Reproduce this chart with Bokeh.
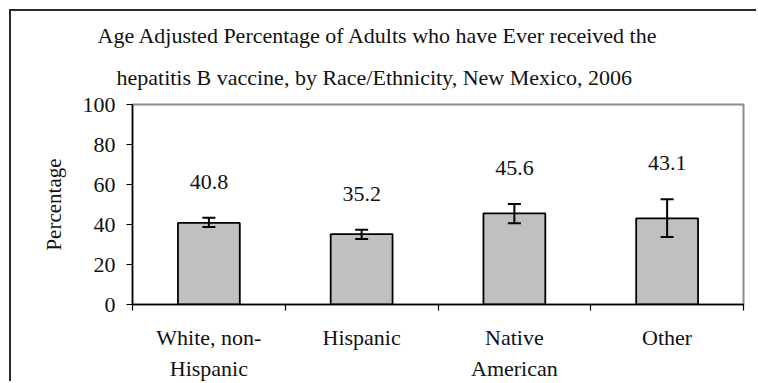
from bokeh.plotting import figure
from bokeh.models import ColumnDataSource, Whisker, TeeHead, FixedTicker, Range1d, Title
from bokeh.core.properties import value
from bokeh.embed import file_html
from bokeh.resources import INLINE

categories = ["White, non-Hispanic", "Hispanic", "Native American", "Other"]
category_labels = ["White, non-\nHispanic", "Hispanic", "Native\nAmerican", "Other"]
percentages = [40.8, 35.2, 45.6, 43.1]
ci_lower = [38.7, 32.8, 40.6, 33.7]
ci_upper = [43.4, 37.4, 50.2, 52.6]
y_ticks = [0, 20, 40, 60, 80, 100]
title_lines = ["Age Adjusted Percentage of Adults who have Ever received the",
               "hepatitis B vaccine, by Race/Ethnicity, New Mexico, 2006"]

FONT = "Liberation Serif"
TXT = "#111111"

xpos = [i + 0.5 for i in range(len(categories))]
src = ColumnDataSource(dict(x=xpos, cat=categories, pct=percentages,
                            lo=ci_lower, hi=ci_upper,
                            lbl=[f"{v:.1f}" for v in percentages]))

M = 11
W, H = 758 - M, 383 - M
p = figure(width=W, height=H, output_backend="svg", toolbar_location=None,
           x_range=Range1d(0, len(categories)), y_range=Range1d(0, 100),
           min_border_left=132 - M, min_border_right=15, min_border_top=104 - M,
           min_border_bottom=78)
p.margin = (M, 0, 0, M)
p.styles = {"box-shadow": "-2px -2px 0px 0px #2a2a2a"}
p.background_fill_color = "white"
p.border_fill_color = "white"
p.outline_line_color = "#8c8c8c"
p.outline_line_width = 2
p.xgrid.visible = False
p.ygrid.visible = False

xa = p.below[0]
ya = p.left[0]

# title: two lines, line nearest the frame added first
t2 = Title(text=title_lines[1], align="left", offset=-16, standoff=30,
           text_font=FONT, text_font_size="22px", text_font_style="normal",
           text_color=TXT)
t1 = Title(text=title_lines[0], align="left", offset=-35, standoff=0,
           text_font=FONT, text_font_size="22px", text_font_style="normal",
           text_color=TXT)
p.add_layout(t2, "above")
p.add_layout(t1, "above")

p.vbar(x="x", top="pct", width=0.405, source=src, fill_color="#C0C0C0",
       line_color="black", line_width=1.8)

w = Whisker(base="x", lower="lo", upper="hi", source=src, level="annotation",
            line_color="black", line_width=2,
            upper_head=TeeHead(size=13, line_color="black", line_width=2),
            lower_head=TeeHead(size=13, line_color="black", line_width=2))
p.add_layout(w)

p.text(x="x", y="hi", text="lbl", source=src, y_offset=-36,
       text_align="center", text_baseline="middle",
       text_font=value(FONT), text_font_size="22px", text_color=TXT)

# y axis
ya.ticker = FixedTicker(ticks=y_ticks)
ya.axis_label = "Percentage"
ya.axis_label_text_font = FONT
ya.axis_label_text_font_style = "normal"
ya.axis_label_text_font_size = "21px"
ya.axis_label_text_color = TXT
ya.axis_label_standoff = 14
ya.major_label_text_font = FONT
ya.major_label_text_font_size = "22px"
ya.major_label_text_color = TXT
ya.major_label_standoff = 11
ya.major_tick_in = 0
ya.major_tick_out = 6
ya.minor_tick_line_color = None
ya.axis_line_color = "black"
ya.axis_line_width = 1.5
ya.major_tick_line_color = "black"
ya.major_tick_line_width = 1.2

# x axis: labels at category centres, tick marks at category boundaries
xa.ticker = FixedTicker(ticks=xpos, minor_ticks=list(range(len(categories) + 1)))
xa.major_label_overrides = {x: l for x, l in zip(xpos, category_labels)}
xa.major_tick_line_color = None
xa.major_tick_in = 0
xa.major_tick_out = 6
xa.minor_tick_in = 0
xa.minor_tick_out = 6
xa.minor_tick_line_color = "black"
xa.minor_tick_line_width = 1.2
xa.axis_line_color = "black"
xa.axis_line_width = 1.5
xa.major_label_standoff = 14
xa.major_label_text_font = FONT
xa.major_label_text_font_size = "22px"
xa.major_label_text_color = TXT
xa.major_label_text_line_height = 1.25

open("out.html", "w").write(file_html(p, INLINE))
